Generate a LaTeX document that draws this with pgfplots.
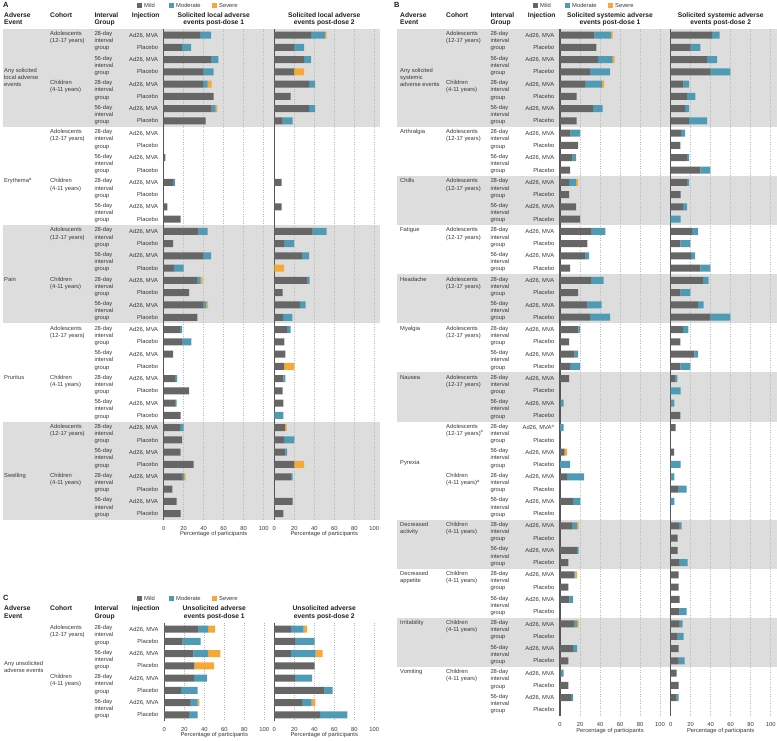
\documentclass[border=0pt]{standalone}
\usepackage{pgfplots}
\pgfplotsset{compat=1.18}
\usepackage{pgfplotstable}
\usepackage{fontspec}
\setmainfont{Liberation Sans}

\definecolor{mildc}{RGB}{102,102,102}
\definecolor{modc}{RGB}{79,155,181}
\definecolor{sevc}{RGB}{247,169,55}
\definecolor{axc}{RGB}{85,85,85}
\definecolor{gridc}{RGB}{185,185,185}
\definecolor{bandc}{RGB}{221,221,221}
\definecolor{txt}{RGB}{55,55,55}
\definecolor{hdr}{RGB}{30,30,30}

\newcommand\fs{\fontsize{5.8}{7.2}\selectfont}
\newcommand\fh{\fontsize{6.7}{8}\selectfont\bfseries}

\newcommand\Tl[3]{\node[anchor=base west,inner sep=0,font=\fs,text=txt] at (#1,#2+2.1) {#3};}
\newcommand\Tr[3]{\node[anchor=base east,inner sep=0,font=\fs,text=txt] at (#1,#2+2.1) {#3};}
\newcommand\Tc[3]{\node[anchor=base,inner sep=0,font=\fs,text=txt] at (#1,#2+2.1) {#3};}
\newcommand\Hl[3]{\node[anchor=base west,inner sep=0,font=\fh,text=hdr] at (#1,#2+2.4) {#3};}
\newcommand\Hc[3]{\node[anchor=base,inner sep=0,font=\fh,text=hdr] at (#1,#2+2.4) {#3};}
\newcommand\lgd[2]{%
 \fill[mildc] (#1,#2-2.5) rectangle ++(5,5); \Tl{#1+7}{#2}{Mild}
 \fill[modc] (#1+32,#2-2.5) rectangle ++(5,5); \Tl{#1+39}{#2}{Moderate}
 \fill[sevc] (#1+75,#2-2.5) rectangle ++(5,5); \Tl{#1+82}{#2}{Severe}}

% ---------------- data ----------------
\pgfplotstableread{
r mi mo se
0 36.3 11.0 0
1 18.3 9.0 0
2 47.3 7.4 0
3 40 10 0
4 39.3 4.7 4.0
5 50 0 0
6 48 4 1.7
7 42 0 0
8 0 0 0
9 0 0 0
10 1.7 0 0
11 0 0 0
12 9.3 2.0 0
13 0 0 0
14 3.7 0 0
15 17 0 0
16 34.7 9.3 0
17 9.3 0 0
18 40 7.3 0
19 10.3 9.7 0
20 33.3 3.7 2.0
21 25.3 0 0
22 39.3 3.4 1.6
23 33.7 0 0
24 16.3 2.0 0
25 18.3 9.4 0
26 9.3 0 0
27 0 0 0
28 11.3 2.0 0
29 25.3 0 0
30 11.3 1.7 0
31 17 0 0
32 16.3 3.7 0
33 18.3 0 0
34 16.3 0.7 0
35 30 0 0
36 19 1.3 1.7
37 8.7 0 0
38 13 0 0
39 17 0 0
}\tAa

\pgfplotstableread{
r mi mo se
0 36.7 14.0 1.6
1 19.7 10.0 0
2 29.7 7.0 0
3 19.7 0 10.0
4 34.7 6.0 0
5 16.3 0 0
6 34.7 6.0 0
7 8.3 10.0 0
8 0 0 0
9 0 0 0
10 0 0 0
11 0 0 0
12 7.3 0 0
13 0 0 0
14 7.3 0 0
15 0 0 0
16 38.3 14.0 0
17 9.7 10.0 0
18 27.7 7.0 0
19 0 0 9.7
20 33.3 2.0 0
21 8.3 0 0
22 25.7 5.6 0
23 8.7 9.3 0
24 12.7 3.6 0
25 10 0 0
26 11 0 0
27 9.7 0 10.3
28 9 2 0
29 8.3 0 0
30 9 0 0
31 0 9 0
32 10.7 0 1.6
33 9.7 10.3 0
34 11 1.7 0
35 20 0 9.7
36 16.7 1.6 0
37 0 0 0
38 18.3 0 0
39 9 0 0
}\tAb

\pgfplotstableread{
r mi mo se
0 34.3 16.7 1.7
1 36.3 0 0
2 38 14.7 2.0
3 30 20 0
4 25.7 16.3 2.0
5 16.7 0 0
6 33 9.7 0
7 16.7 0 0
8 10.7 9.3 0
9 18 0 0
10 12.7 3.3 0
11 10 0 0
12 9 7 2
13 9 0 0
14 16 0 0
15 20 0 0
16 31 14.3 0
17 27.3 0 0
18 25 4 0
19 10 0 0
20 31 12.7 0
21 18 0 0
22 27.3 14.4 0
23 30 20 0
24 18.3 1.7 0
25 9 0 0
26 14.7 3.3 0
27 10 10 0
28 9 0 0
29 0 0 0
30 0.7 3 0
31 0 0 0
32 0 3.7 0
33 0 0 0
34 4.7 0 2.3
35 0 10 0
36 7 17 0
37 0 0 0
38 13 7.3 0
39 0 0 0
40 12.7 4.3 1.7
41 0 0 0
42 17 1.7 0
43 8.3 0 0
44 14.3 1.0 1.7
45 8.3 0 0
46 9.3 3.7 0
47 0 0 0
48 14.3 2.7 1.7
49 0 0 0
50 13 4 0
51 8.3 0 0
52 1 2.7 0
53 8.3 0 0
54 11 2 0
55 0 0 0
}\tBa

\pgfplotstableread{
r mi mo se
0 41.3 7.7 0
1 20 9.7 0
2 36.3 10 0
3 40 19.7 0
4 12.7 5.6 0
5 16.3 8.4 0
6 14.3 4 0
7 18.3 18 0
8 10.3 4 0
9 9.7 0 0
10 16.3 2 0
11 29.7 10 0
12 16.3 2 0
13 10 0 0
14 12.3 4 0
15 0 10 0
16 21.3 6 0
17 9.7 10 0
18 20.3 4 0
19 29.7 10 0
20 32.3 5.7 0
21 9.7 10 0
22 27.3 5.7 0
23 39.7 20 0
24 12.3 5.4 0
25 9.7 0 0
26 23.7 3.6 0
27 9.7 10 0
28 4.7 2 0
29 0 10 0
30 1 2.7 0
31 9.7 0 0
32 5 0 0
33 0 0 0
34 3.3 0 0
35 0 10 0
36 1 2.7 0
37 8 8 0
38 0 3.7 0
39 0 0 0
40 9 2 0
41 7 0 0
42 7 0 0
43 9 8 0
44 8 0 0
45 8 0 0
46 9 0 0
47 9 7 0
48 9 3 0
49 7 6 0
50 8 0 0
51 8 6 0
52 6 0 0
53 8 0 0
54 6 2 0
55 0 0 0
}\tBb

\pgfplotstableread{
r mi mo se
0 34.3 9.4 7
1 18.3 18 0
2 29 14.7 12.3
3 30 0 19.7
4 29.7 13 0
5 16.7 16.6 0
6 25.7 7.6 1.7
7 24.7 8.6 0
}\tCa

\pgfplotstableread{
r mi mo se
0 16.7 12.6 3.4
1 20.7 19.6 0
2 16.7 24.6 7
3 40.3 0 0
4 20.7 17 0
5 50.3 8 0
6 27.7 9.6 3.7
7 45.7 27.3 0
}\tCb

\pgfplotsset{bx/.style={
  xbar stacked, bar width=7pt, scale only axis, width=100pt,
  xmin=0, xmax=100, y dir=reverse, clip=false,
  axis x line*=bottom, axis y line*=left,
  x axis line style={draw=none},
  y axis line style={draw=axc, line width=1.1pt},
  ytick=\empty, xtick={0,20,40,60,80,100},
  major tick length=0pt,
  xmajorgrids, grid style={dotted, draw=gridc, line width=0.6pt},
  xticklabel style={font=\fs, yshift=-3pt, text=txt},
  /pgf/number format/assume math mode=true,
  anchor=north west,
}}
\newcommand\bars[1]{%
 \addplot[fill=mildc, draw=none] table[x=mi,y=r]{#1};
 \addplot[fill=modc, draw=none] table[x=mo,y=r]{#1};
 \addplot[fill=sevc, draw=none] table[x=se,y=r]{#1};
}

\begin{document}
\begin{tikzpicture}
\path[use as bounding box] (0pt,0pt) rectangle (777pt,-741pt);

\begin{scope}[x=1pt,y=-1pt]
\foreach \s in {0,16,32} {\fill[bandc] (3,28.9+12.27*\s) rectangle (380,28.9+12.27*\s+98.16);}
\fill[bandc] (396.5,28.9) rectangle (777,127.06);
\foreach \s in {12,20,28,40,48} {\fill[bandc] (396.5,28.9+12.27*\s) rectangle (777,28.9+12.27*\s+49.08);}
\end{scope}

\begin{axis}[bx, at={(163.7pt,-28.9pt)}, height=490.8pt, ymin=-0.5, ymax=39.5] \bars{\tAa} \end{axis}
\begin{axis}[bx, at={(274.3pt,-28.9pt)}, height=490.8pt, ymin=-0.5, ymax=39.5] \bars{\tAb} \end{axis}
\begin{axis}[bx, at={(560pt,-28.9pt)}, height=687.1pt, ymin=-0.5, ymax=55.5] \bars{\tBa} \end{axis}
\begin{axis}[bx, at={(670.7pt,-28.9pt)}, height=687.1pt, ymin=-0.5, ymax=55.5] \bars{\tBb} \end{axis}
\begin{axis}[bx, at={(164.3pt,-623pt)}, height=98pt, ymin=-0.5, ymax=7.5] \bars{\tCa} \end{axis}
\begin{axis}[bx, at={(274.3pt,-623pt)}, height=98pt, ymin=-0.5, ymax=7.5] \bars{\tCb} \end{axis}

\begin{scope}[x=1pt,y=-1pt]
% ---------- Panel A ----------
\node[anchor=base west,inner sep=0,font=\fontsize{7.5}{8}\selectfont\bfseries,text=hdr] at (3,7.7) {A};
\lgd{137}{5.3}
\Hl{4}{14.7}{Adverse} \Hl{4}{22.3}{Event}
\Hl{50}{14.7}{Cohort}
\Hl{94.3}{14.7}{Interval} \Hl{94.3}{22.3}{Group}
\Hl{131.7}{14.7}{Injection}
\Hc{213.7}{14.7}{Solicited local adverse} \Hc{213.7}{22.3}{events post-dose 1}
\Hc{324.3}{14.7}{Solicited local adverse} \Hc{324.3}{22.3}{events post-dose 2}
\Tl{4}{70.7}{Any solicited} \Tl{4}{77.7}{local adverse} \Tl{4}{84.7}{events}
\Tl{4}{180.74}{Erythema\textsuperscript{a}}
\Tl{4}{278.9}{Pain}
\Tl{4}{377.06}{Pruritus}
\Tl{4}{475.22}{Swelling}
\foreach \b in {0,8,16,24,32} {
  \pgfmathsetmacro\yy{35+12.27*\b-1.5}
  \Tl{50}{\yy}{Adolescents} \Tl{50}{\yy+7.2}{(12-17 years)}
  \pgfmathsetmacro\zz{35+12.27*(\b+4)-1.5}
  \Tl{50}{\zz}{Children} \Tl{50}{\zz+7.2}{(4-11 years)}
}
\foreach \i in {0,2,...,38} {
  \pgfmathsetmacro\yy{35+12.27*\i-1.5}
  \pgfmathtruncatemacro\m{mod(\i,4)}
  \ifnum\m=0 \Tl{94.3}{\yy}{28-day}\else\Tl{94.3}{\yy}{56-day}\fi
  \Tl{94.3}{\yy+7.2}{interval}
  \Tl{94.3}{\yy+14.4}{group}
}
\foreach \i in {0,...,39} {
  \pgfmathsetmacro\yy{35+12.27*\i}
  \pgfmathtruncatemacro\m{mod(\i,2)}
  \ifnum\m=0 \Tr{158.3}{\yy}{Ad26, MVA}\else\Tr{158.3}{\yy}{Placebo}\fi
}
\Tc{213.7}{533.7}{Percentage of participants}
\Tc{324.3}{533.7}{Percentage of participants}

% ---------- Panel B ----------
\node[anchor=base west,inner sep=0,font=\fontsize{7.5}{8}\selectfont\bfseries,text=hdr] at (394,7.7) {B};
\lgd{533}{5.3}
\Hl{400}{14.7}{Adverse} \Hl{400}{22.3}{Event}
\Hl{446}{14.7}{Cohort}
\Hl{490.3}{14.7}{Interval} \Hl{490.3}{22.3}{Group}
\Hl{527.7}{14.7}{Injection}
\Hc{610}{14.7}{Solicited systemic adverse} \Hc{610}{22.3}{events post-dose 1}
\Hc{720.7}{14.7}{Solicited systemic adverse} \Hc{720.7}{22.3}{events post-dose 2}
\Tl{400}{70.7}{Any solicited} \Tl{400}{77.7}{systemic} \Tl{400}{84.7}{adverse events}
\Tl{400}{131.66}{Arthralgia}
\Tl{400}{180.74}{Chills}
\Tl{400}{229.82}{Fatigue}
\Tl{400}{278.9}{Headache}
\Tl{400}{327.98}{Myalgia}
\Tl{400}{377.06}{Nausea}
\Tl{400}{462.7}{Pyrexia}
\Tl{400}{524.3}{Decreased} \Tl{400}{531.5}{activity}
\Tl{400}{573.38}{Decreased} \Tl{400}{580.58}{appetite}
\Tl{400}{622.46}{Irritability}
\Tl{400}{671.54}{Vomiting}
\foreach \b in {0,8,12,16,20,24,28} {
  \pgfmathsetmacro\yy{35+12.27*\b-1.5}
  \Tl{446}{\yy}{Adolescents} \Tl{446}{\yy+7.2}{(12-17 years)}
}
\foreach \b in {4,40,44,48,52} {
  \pgfmathsetmacro\yy{35+12.27*\b-1.5}
  \Tl{446}{\yy}{Children} \Tl{446}{\yy+7.2}{(4-11 years)}
}
\pgfmathsetmacro\yy{35+12.27*32-1.5}
\Tl{446}{\yy}{Adolescents} \Tl{446}{\yy+7.2}{(12-17 years)\textsuperscript{a}}
\pgfmathsetmacro\yy{35+12.27*36-1.5}
\Tl{446}{\yy}{Children} \Tl{446}{\yy+7.2}{(4-11 years)\textsuperscript{a}}
\foreach \i in {0,2,...,54} {
  \pgfmathsetmacro\yy{35+12.27*\i-1.5}
  \pgfmathtruncatemacro\m{mod(\i,4)}
  \ifnum\m=0 \Tl{490.3}{\yy}{28-day}\else\Tl{490.3}{\yy}{56-day}\fi
  \Tl{490.3}{\yy+7.2}{interval}
  \Tl{490.3}{\yy+14.4}{group}
}
\foreach \i in {0,...,55} {
  \pgfmathsetmacro\yy{35+12.27*\i}
  \pgfmathtruncatemacro\m{mod(\i,2)}
  \ifnum\i=32 \Tr{554.5}{\yy}{Ad26, MVA\textsuperscript{a}}\else
  \ifnum\m=0 \Tr{554.5}{\yy}{Ad26, MVA}\else\Tr{554.5}{\yy}{Placebo}\fi\fi
}
\Tc{610}{730}{Percentage of participants}
\Tc{720.7}{730}{Percentage of participants}

% ---------- Panel C ----------
\node[anchor=base west,inner sep=0,font=\fontsize{7.5}{8}\selectfont\bfseries,text=hdr] at (3,600.7) {C};
\lgd{137}{598.3}
\Hl{4}{608.3}{Adverse} \Hl{4}{616}{Event}
\Hl{50}{608.3}{Cohort}
\Hl{94.3}{608.3}{Interval} \Hl{94.3}{616}{Group}
\Hl{131.7}{608.3}{Injection}
\Hc{214.3}{608.3}{Unsolicited adverse} \Hc{214.3}{616}{events post-dose 1}
\Hc{324.3}{608.3}{Unsolicited adverse} \Hc{324.3}{616}{events post-dose 2}
\Tl{4}{663}{Any unsolicited} \Tl{4}{670}{adverse events}
\Tl{50}{627.6}{Adolescents} \Tl{50}{634.8}{(12-17 years)}
\Tl{50}{676.6}{Children} \Tl{50}{683.8}{(4-11 years)}
\foreach \i in {0,2,4,6} {
  \pgfmathsetmacro\yy{629.1+12.25*\i-1.5}
  \pgfmathtruncatemacro\m{mod(\i,4)}
  \ifnum\m=0 \Tl{94.3}{\yy}{28-day}\else\Tl{94.3}{\yy}{56-day}\fi
  \Tl{94.3}{\yy+7.2}{interval}
  \Tl{94.3}{\yy+14.4}{group}
}
\foreach \i in {0,...,7} {
  \pgfmathsetmacro\yy{629.1+12.25*\i}
  \pgfmathtruncatemacro\m{mod(\i,2)}
  \ifnum\m=0 \Tr{158.6}{\yy}{Ad26, MVA}\else\Tr{158.6}{\yy}{Placebo}\fi
}
\Tc{214.3}{734.3}{Percentage of participants}
\Tc{324.3}{734.3}{Percentage of participants}
\end{scope}
\end{tikzpicture}
\end{document}
